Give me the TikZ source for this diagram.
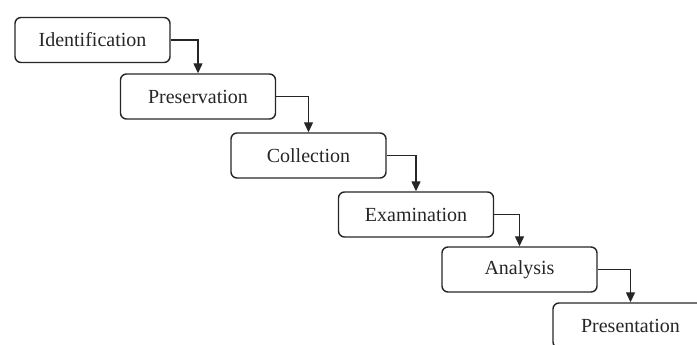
\documentclass[tikz,border=0pt]{standalone}
\usepackage{fontspec}
\setmainfont{Liberation Serif}
\usetikzlibrary{arrows.meta}
\begin{document}
\begin{tikzpicture}[x=1pt,y=-1pt,
  stagebox/.style={draw=black!85, line width=1.4pt, rounded corners=6pt,
    minimum width=155pt, minimum height=45pt, inner sep=0pt,
    font=\fontsize{20}{24}\selectfont, text=black!85},
  flow/.style={draw=black!85, line width=1.3pt, -{Triangle[length=10pt,width=9pt]}}]
\useasboundingbox (0,0) rectangle (697,345);
\clip (0,0) rectangle (697,345);
\node[stagebox] (b1) at (92.5,40) {Identification};
\node[stagebox] (b2) at (198,96.5) {Preservation};
\node[stagebox] (b3) at (308.5,155.5) {Collection};
\node[stagebox] (b4) at (416,214.5) {Examination};
\node[stagebox] (b5) at (519.5,269.5) {Analysis};
\node[stagebox] (b6) at (630.5,325.5) {Presentation};
\draw[flow] (b1.east) -| (b2.north);
\draw[flow] (b2.east) -| (b3.north);
\draw[flow] (b3.east) -| (b4.north);
\draw[flow] (b4.east) -| (b5.north);
\draw[flow] (b5.east) -| (b6.north);
\end{tikzpicture}
\end{document}
